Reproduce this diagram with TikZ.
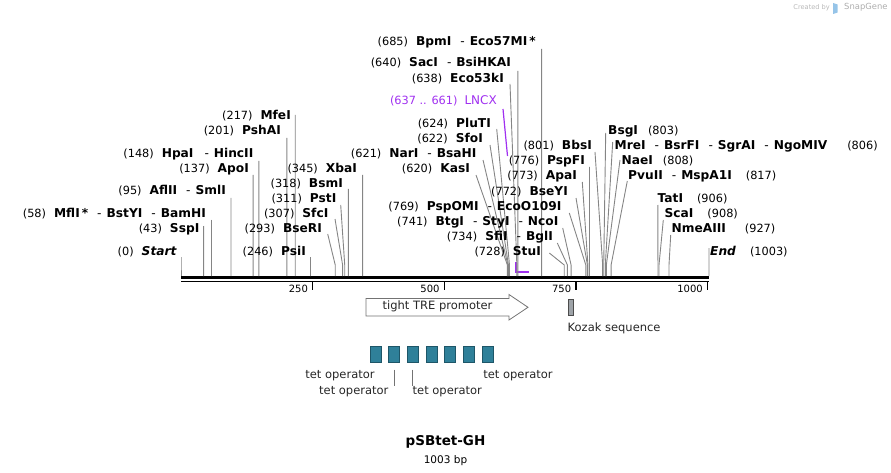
\documentclass[tikz,border=0pt]{standalone}
\usepackage{fontspec}
\setmainfont{DejaVu Sans}
\usetikzlibrary{positioning}
\usepackage{xcolor}
\definecolor{lncxPurple}{RGB}{160,48,240}
\definecolor{tetTeal}{RGB}{47,128,153}
\definecolor{tetEdge}{RGB}{30,86,104}
\definecolor{kozakGray}{RGB}{158,163,168}
\definecolor{snapBlue}{RGB}{150,196,232}
\colorlet{cutLine}{black!48}
\tikzset{
    backbone/.style={line width=3pt, black},
    backbonelow/.style={line width=1.6pt, black},
    tickmark/.style={line width=1.4pt, black},
    ticklabel/.style={inner sep=0pt, font=\fontsize{10}{12}\selectfont},
    sitelabel/.style={inner sep=0pt, font=\fontsize{12.2}{14}\selectfont\bfseries},
    siteline/.style={draw=cutLine, line width=0.9pt},
    featlabel/.style={inner sep=0pt, font=\fontsize{11.5}{13}\selectfont, text=black!85},
    featline/.style={draw=black!55, line width=0.8pt},
    promoter/.style={draw=black!55, fill=white, line width=0.8pt},
    tetbox/.style={draw=tetEdge, fill=tetTeal, minimum width=11pt, minimum height=16pt, inner sep=0pt, line width=0.6pt},
    kozakbox/.style={draw=black!70, fill=kozakGray, minimum width=5pt, minimum height=16pt, inner sep=0pt, line width=0.6pt}
}
% bp to x along the backbone
\newcommand{\bpx}[1]{181+#1*0.526421}
\newcommand{\cutpos}[1]{{\mdseries\fontsize{11.3}{13}\selectfont(#1)}}
\newcommand{\enzsep}{\hspace{9pt}{\mdseries-}\hspace{5pt}}
% [line start drop]{name}{bp}{label y}{label end x}{line start x}{enzymes}
\newcommand{\leftcut}[7][5]{%
    \node[sitelabel, anchor=east] (#2) at (#5,#4) {\cutpos{#3}\hspace{8pt}#7};
    \coordinate (#2-cut) at ({\bpx{#3}},276);
    \coordinate (#2-bend) at ({\bpx{#3}},265);
    \draw[siteline] ([shift={({#6-#5},#1)}]#2.east) -- (#2-bend) -- (#2-cut);
}
% same, with the label to the right of its line
\newcommand{\rightcut}[7][5]{%
    \node[sitelabel, anchor=west] (#2) at (#5,#4) {#7\hspace{10pt}\cutpos{#3}};
    \coordinate (#2-cut) at ({\bpx{#3}},276);
    \coordinate (#2-bend) at ({\bpx{#3}},265);
    \draw[siteline] ([shift={({#6-#5},#1)}]#2.west) -- (#2-bend) -- (#2-cut);
}

\begin{document}
\begin{tikzpicture}[x=1pt, y=-1pt]
    \useasboundingbox (0,0) rectangle (891,473);

    % Draw the LNCX feature first, the cut lines go over it
    \node[anchor=east, inner sep=0pt, text=lncxPurple, font=\fontsize{11.3}{13}\selectfont] (lncx) at (497,101)
        {(637 .. 661)\hspace{7pt}{\fontsize{12}{14}\selectfont LNCX}};
    \coordinate (lncx-top) at (516,262);
    \coordinate (lncx-corner) at (516,271.5);
    \coordinate (lncx-end) at (529,271.5);
    \draw[lncxPurple, line width=1.2pt] ([shift={(6,8)}]lncx.east) -- (507.5,156);
    \draw[lncxPurple, line width=2pt] (lncx-top) -- (lncx-corner) -- (lncx-end);

    % Draw the sequence backbone and the ruler
    \coordinate (seqstart) at (181,277.5);
    \coordinate (seqend) at (709,277.5);
    \draw[backbone] (seqstart) -- (seqend);
    \draw[backbonelow] ([yshift=-3.8pt]seqstart) -- ([yshift=-3.8pt]seqend);
    \foreach \t in {250,500,750,1000} {
        \coordinate (tick\t) at ({\bpx{\t}},281);
        \draw[tickmark] (tick\t) -- ++(0,8.5);
        \node[ticklabel, anchor=east] (ticklab\t) at ([shift={(-4.5,8)}]tick\t) {\t};
    }

    % Cut sites left of the backbone middle
    \leftcut{start}{0}{252}{177}{181}{\textit{Start}}
    \leftcut[-3]{sspI}{43}{229}{199.5}{203.6}{SspI}
    \leftcut[6]{bamHI}{58}{214}{206}{211.5}{MflI\,*\enzsep BstYI\enzsep BamHI}
    \leftcut[7]{smlI}{95}{191}{226}{231}{AflII\enzsep SmlI}
    \leftcut[6]{apoI}{137}{169}{249}{253.1}{ApoI}
    \leftcut[7]{hincII}{148}{154}{253.5}{258.9}{HpaI\hspace{2pt}\enzsep HincII}
    \leftcut[7]{pshAI}{201}{131}{281}{286.8}{PshAI}
    \leftcut[-1]{mfeI}{217}{116}{291}{295.2}{MfeI}
    \leftcut{psiI}{246}{252}{306}{310.5}{PsiI}
    \leftcut{bseRI}{293}{229}{322}{327.7}{BseRI}
    \leftcut{sfcI}{307}{214}{328.5}{335}{SfcI}
    \leftcut[6]{pstI}{311}{199}{336.5}{340.7}{PstI}
    \leftcut{bsmI}{318}{184}{343}{348.4}{BsmI}
    \leftcut[6]{xbaI}{345}{169}{357}{362.6}{XbaI}
    \leftcut[6]{kasI}{620}{169}{470}{476}{KasI}
    \leftcut[6]{narI}{621}{154}{476.5}{483}{NarI\enzsep BsaHI}
    \leftcut[6]{sfoI}{622}{139}{483}{490}{SfoI}
    \leftcut{pluTI}{624}{124}{491}{496.7}{PluTI}
    \leftcut{eco53kI}{638}{79}{504}{510}{Eco53kI}
    \leftcut[8]{sacI}{640}{63}{511}{517.9}{SacI\enzsep BsiHKAI}
    \leftcut[7]{bpmI}{685}{42}{536}{541.6}{BpmI\enzsep Eco57MI\,*}
    \leftcut[1]{stuI}{728}{252}{541}{549.3}{StuI}
    \leftcut[6]{bglI}{734}{237}{553}{557.3}{SfiI\enzsep BglI}
    \leftcut[6]{ncoI}{741}{222}{558.5}{562.7}{BtgI\enzsep StyI\enzsep NcoI}
    \leftcut[6]{ecoO109I}{769}{207}{561.5}{569.3}{PspOMI\enzsep EcoO109I}
    \leftcut[6]{bseYI}{772}{192}{568}{576}{BseYI}
    \leftcut[6]{apaI}{773}{176}{577}{582.3}{ApaI}
    \leftcut[6]{pspFI}{776}{161}{585}{589.5}{PspFI}
    \leftcut[6]{bbsI}{801}{146}{592}{595}{BbsI}

    % Cut sites with the label on the right
    \rightcut[2]{bsgI}{803}{131}{608}{605.7}{BsgI}
    \rightcut[-4]{ngoMIV}{806}{146}{614.5}{612.7}{MreI\enzsep BsrFI\enzsep SgrAI\enzsep NgoMIV\hspace{10pt}}
    \rightcut[-1]{naeI}{808}{161}{621.5}{620}{NaeI}
    \rightcut{mspA1I}{817}{176}{628}{627.3}{PvuII\enzsep MspA1I\hspace{4pt}}
    \rightcut[6]{tatI}{906}{199}{657.5}{657.9}{TatI\hspace{4pt}}
    \rightcut[6]{scaI}{908}{214}{664.5}{663.3}{ScaI\hspace{4pt}}
    \rightcut[6]{nmeAIII}{927}{229}{671.5}{670.7}{NmeAIII\hspace{9pt}}
    \rightcut[-4]{end}{1003}{252}{710}{709}{\textit{End}\hspace{4pt}}

    % Features under the ruler
    \draw[promoter] (366,298.5) -- (509,298.5) -- (509,294.5) -- (528,307.3)
        -- (509,320) -- (509,316) -- (366,316) -- cycle;
    \node[featlabel] (promoterlabel) at (437.5,306.8) {tight TRE promoter};
    \node[kozakbox] (kozak) at (570.5,307) {};
    \node[featlabel, anchor=west] (kozaklabel) at (567.5,328) {Kozak sequence};

    \foreach \i in {1,...,7}
        \node[tetbox] (tet\i) at ({375.3+18.7*(\i-1)},354.7) {};
    \node[featlabel] (tetlab1) at (340,375.5) {tet operator};
    \node[featlabel] (tetlab2) at (353.8,391.5) {tet operator};
    \node[featlabel] (tetlab3) at (447.3,391.5) {tet operator};
    \node[featlabel] (tetlab4) at (518,375.5) {tet operator};
    \draw[featline] ([yshift=-6.5pt]tet2.south) -- (tet2.south |- tetlab2.north);
    \draw[featline] ([yshift=-6.5pt]tet3.south) -- (tet3.south |- tetlab3.north);

    % Name and length of the plasmid
    \node[font=\fontsize{13.5}{15}\selectfont\bfseries] (title) at (445.5,442) {pSBtet-GH};
    \node[font=\fontsize{10.5}{12}\selectfont, below=0pt of title] (length) {1003 bp};

    % Watermark
    \node[anchor=east, inner sep=0pt, text=black!28, font=\fontsize{6.6}{8}\selectfont] (createdby) at (830,7.5) {Created by};
    \fill[snapBlue] (833,3) -- (837.5,4.5) -- (837.5,12.5) -- (833,14) -- cycle;
    \node[anchor=west, inner sep=0pt, text=black!32, font=\fontsize{8.4}{10}\selectfont] (snapgene) at (844,7.5) {SnapGene};
\end{tikzpicture}
\end{document}
